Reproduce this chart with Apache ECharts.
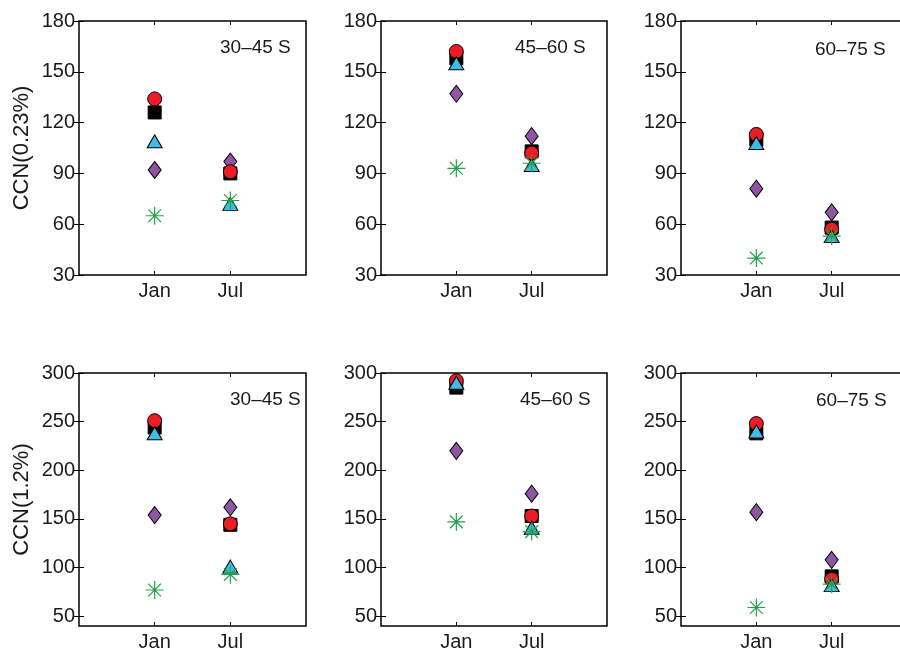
<!DOCTYPE html>
<html>
<head>
<meta charset="utf-8">
<script src="https://cdn.jsdelivr.net/npm/echarts@6/dist/echarts.min.js"></script>
<style>html,body{margin:0;padding:0;background:#fff;}#c{width:900px;height:652px;}</style>
</head>
<body>
<div id="c"></div>
<script>
// Categories
const months = ['Jan', 'Jul'];
const regions = ['30–45 S', '45–60 S', '60–75 S'];
const yNames = ['CCN(0.23%)', 'CCN(1.2%)'];
// Tick labels
const yTicksTop = [30, 60, 90, 120, 150, 180];
const yTicksBottom = [50, 100, 150, 200, 250, 300];

// Top row, CCN(0.23%): each entry is [Jan, Jul] for one region
const circle023 = [[134, 91], [162, 102], [113, 57]];
const square023 = [[126, 90], [158, 103], [110, 58]];
const triangle023 = [[109, 72], [155, 95], [108, 53]];
const diamond023 = [[92, 97], [137, 112], [81, 67]];
const star023 = [[65, 74], [93, 96], [40, 53]];

// Bottom row, CCN(1.2%)
const circle12 = [[251, 145], [292, 153], [248, 88]];
const square12 = [[244, 144], [285, 153], [238, 91]];
const triangle12 = [[238, 101], [290, 141], [240, 82]];
const diamond12 = [[154, 162], [220, 176], [157, 108]];
const star12 = [[77, 93], [147, 137], [59, 83]];

const FONT = '"Liberation Sans", Arial, Helvetica, sans-serif';
const TXT = '#1a1a1a';

const colLeft = [79, 381, 681];
const colWidth = [227, 226, 226];
const rowTop = [21, 373];
const rowHeight = [254, 253];
const rowMin = [30, 40];
const rowMax = [180, 300];
const rowTicks = [yTicksTop, yTicksBottom];
const titleOffsets = [[[220, 38], [515, 38], [815, 40]], [[230, 390], [520, 390], [816, 391]]];

const STAR = 'path://M0,7L14,7M7,0L7,14M2.05,2.05L11.95,11.95M11.95,2.05L2.05,11.95';
const markerDefs = [
  { key: 'diamond', symbol: 'diamond', size: [13, 17], color: '#8d55a2', border: '#000', bw: 1 },
  { key: 'square', symbol: 'rect', size: 13, color: '#000', border: '#000', bw: 1 },
  { key: 'circle', symbol: 'circle', size: 14, color: '#ec1c24', border: '#000', bw: 1 },
  { key: 'triangle', symbol: 'triangle', size: [15, 13], color: '#3fbde8', border: '#000', bw: 1 },
  { key: 'star', symbol: STAR, size: 18, color: 'none', border: '#22a14a', bw: 1.2 }
];
const rowData = [
  { diamond: diamond023, square: square023, circle: circle023, triangle: triangle023, star: star023 },
  { diamond: diamond12, square: square12, circle: circle12, triangle: triangle12, star: star12 }
];

const grid = [], xAxis = [], yAxis = [], series = [], title = [];
let gi = 0;
for (let r = 0; r < 2; r++) {
  for (let c = 0; c < 3; c++) {
    grid.push({
      left: colLeft[c], top: rowTop[r], width: colWidth[c], height: rowHeight[r],
      outerBoundsMode: 'none', containLabel: false,
      show: true, borderColor: '#000', borderWidth: 1.5, backgroundColor: 'transparent'
    });
    const tickVals = months.map((m, i) => i + 1);
    // bottom x axis with labels
    xAxis.push({
      gridIndex: gi, type: 'value', min: 0, max: 3, position: 'bottom',
      axisLine: { show: false }, splitLine: { show: false },
      axisTick: { show: true, inside: true, length: 4, customValues: tickVals, lineStyle: { color: '#000', width: 1 } },
      axisLabel: {
        show: true, customValues: tickVals, margin: 6,
        formatter: v => months[Math.round(v) - 1] || '',
        fontFamily: FONT, fontSize: 20, color: TXT
      }
    });
    // top x axis, ticks only
    xAxis.push({
      gridIndex: gi, type: 'value', min: 0, max: 3, position: 'top',
      axisLine: { show: false }, splitLine: { show: false },
      axisTick: { show: true, inside: true, length: 4, customValues: tickVals, lineStyle: { color: '#000', width: 1 } },
      axisLabel: { show: false }
    });
    yAxis.push({
      gridIndex: gi, type: 'value', min: rowMin[r], max: rowMax[r], position: 'left',
      name: c === 0 ? yNames[r] : '', nameLocation: 'middle', nameGap: 46,
      nameTextStyle: { fontFamily: FONT, fontSize: 22, color: TXT },
      axisLine: { show: false }, splitLine: { show: false },
      axisTick: { show: true, inside: true, length: 5, customValues: rowTicks[r], lineStyle: { color: '#000', width: 1 } },
      axisLabel: { show: true, customValues: rowTicks[r], margin: 4, fontFamily: FONT, fontSize: 20, color: TXT }
    });
    yAxis.push({
      gridIndex: gi, type: 'value', min: rowMin[r], max: rowMax[r], position: 'right',
      axisLine: { show: false }, splitLine: { show: false },
      axisTick: { show: true, inside: true, length: 5, customValues: rowTicks[r], lineStyle: { color: '#000', width: 1 } },
      axisLabel: { show: false }
    });
    markerDefs.forEach(md => {
      const vals = rowData[r][md.key][c];
      series.push({
        type: 'scatter', name: md.key,
        xAxisIndex: gi * 2, yAxisIndex: gi * 2,
        symbol: md.symbol, symbolSize: md.size,
        itemStyle: { color: md.color, borderColor: md.border, borderWidth: md.bw, opacity: 1 },
        emphasis: { disabled: true },
        data: vals.map((v, i) => [i + 1, v])
      });
    });
    title.push({
      text: regions[c], left: titleOffsets[r][c][0], top: titleOffsets[r][c][1], padding: 0,
      textStyle: { fontFamily: FONT, fontSize: 19, fontWeight: 'normal', color: TXT }
    });
    gi++;
  }
}

const chart = echarts.init(document.getElementById('c'), null, { renderer: 'canvas' });
chart.setOption({
  animation: false,
  backgroundColor: '#fff',
  title, grid, xAxis, yAxis, series
});
</script>
</body>
</html>
